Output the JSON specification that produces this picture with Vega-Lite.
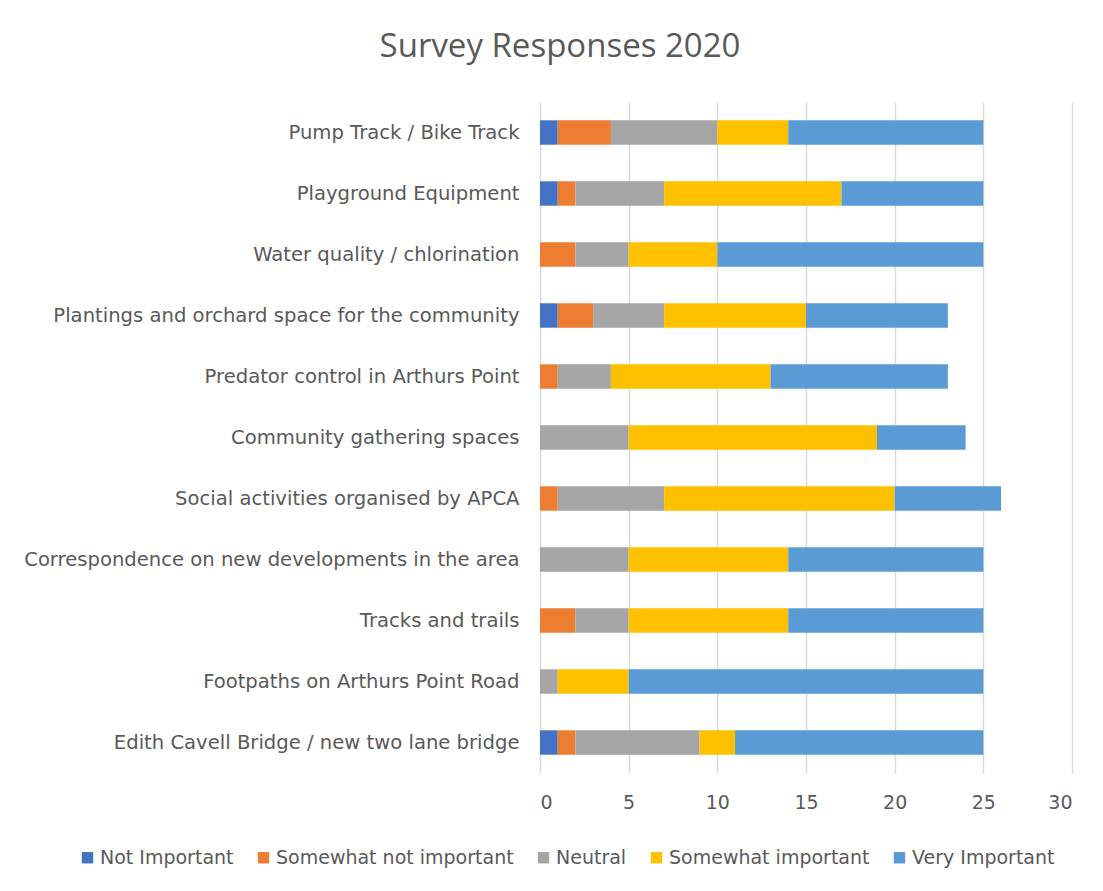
{
  "$schema": "https://vega.github.io/schema/vega-lite/v6.json",
  "width": 532,
  "height": 671,
  "autosize": {"type": "none"},
  "padding": {"left": 540, "top": 102, "right": 31, "bottom": 118},
  "background": "white",
  "title": {
    "text": "Survey Responses 2020",
    "font": "Open Sans",
    "fontSize": 33,
    "fontWeight": "normal",
    "color": "#595959",
    "anchor": "middle",
    "dx": -246,
    "offset": 38
  },
  "data": {
    "values": [
      {"item": "Pump Track / Bike Track", "response": "Not Important", "rank": 1, "count": 1},
      {"item": "Pump Track / Bike Track", "response": "Somewhat not important", "rank": 2, "count": 3},
      {"item": "Pump Track / Bike Track", "response": "Neutral", "rank": 3, "count": 6},
      {"item": "Pump Track / Bike Track", "response": "Somewhat important", "rank": 4, "count": 4},
      {"item": "Pump Track / Bike Track", "response": "Very Important", "rank": 5, "count": 11},

      {"item": "Playground Equipment", "response": "Not Important", "rank": 1, "count": 1},
      {"item": "Playground Equipment", "response": "Somewhat not important", "rank": 2, "count": 1},
      {"item": "Playground Equipment", "response": "Neutral", "rank": 3, "count": 5},
      {"item": "Playground Equipment", "response": "Somewhat important", "rank": 4, "count": 10},
      {"item": "Playground Equipment", "response": "Very Important", "rank": 5, "count": 8},

      {"item": "Water quality / chlorination", "response": "Not Important", "rank": 1, "count": 0},
      {"item": "Water quality / chlorination", "response": "Somewhat not important", "rank": 2, "count": 2},
      {"item": "Water quality / chlorination", "response": "Neutral", "rank": 3, "count": 3},
      {"item": "Water quality / chlorination", "response": "Somewhat important", "rank": 4, "count": 5},
      {"item": "Water quality / chlorination", "response": "Very Important", "rank": 5, "count": 15},

      {"item": "Plantings and orchard space for the community", "response": "Not Important", "rank": 1, "count": 1},
      {"item": "Plantings and orchard space for the community", "response": "Somewhat not important", "rank": 2, "count": 2},
      {"item": "Plantings and orchard space for the community", "response": "Neutral", "rank": 3, "count": 4},
      {"item": "Plantings and orchard space for the community", "response": "Somewhat important", "rank": 4, "count": 8},
      {"item": "Plantings and orchard space for the community", "response": "Very Important", "rank": 5, "count": 8},

      {"item": "Predator control in Arthurs Point", "response": "Not Important", "rank": 1, "count": 0},
      {"item": "Predator control in Arthurs Point", "response": "Somewhat not important", "rank": 2, "count": 1},
      {"item": "Predator control in Arthurs Point", "response": "Neutral", "rank": 3, "count": 3},
      {"item": "Predator control in Arthurs Point", "response": "Somewhat important", "rank": 4, "count": 9},
      {"item": "Predator control in Arthurs Point", "response": "Very Important", "rank": 5, "count": 10},

      {"item": "Community gathering spaces", "response": "Not Important", "rank": 1, "count": 0},
      {"item": "Community gathering spaces", "response": "Somewhat not important", "rank": 2, "count": 0},
      {"item": "Community gathering spaces", "response": "Neutral", "rank": 3, "count": 5},
      {"item": "Community gathering spaces", "response": "Somewhat important", "rank": 4, "count": 14},
      {"item": "Community gathering spaces", "response": "Very Important", "rank": 5, "count": 5},

      {"item": "Social activities organised by APCA", "response": "Not Important", "rank": 1, "count": 0},
      {"item": "Social activities organised by APCA", "response": "Somewhat not important", "rank": 2, "count": 1},
      {"item": "Social activities organised by APCA", "response": "Neutral", "rank": 3, "count": 6},
      {"item": "Social activities organised by APCA", "response": "Somewhat important", "rank": 4, "count": 13},
      {"item": "Social activities organised by APCA", "response": "Very Important", "rank": 5, "count": 6},

      {"item": "Correspondence on new developments in the area", "response": "Not Important", "rank": 1, "count": 0},
      {"item": "Correspondence on new developments in the area", "response": "Somewhat not important", "rank": 2, "count": 0},
      {"item": "Correspondence on new developments in the area", "response": "Neutral", "rank": 3, "count": 5},
      {"item": "Correspondence on new developments in the area", "response": "Somewhat important", "rank": 4, "count": 9},
      {"item": "Correspondence on new developments in the area", "response": "Very Important", "rank": 5, "count": 11},

      {"item": "Tracks and trails", "response": "Not Important", "rank": 1, "count": 0},
      {"item": "Tracks and trails", "response": "Somewhat not important", "rank": 2, "count": 2},
      {"item": "Tracks and trails", "response": "Neutral", "rank": 3, "count": 3},
      {"item": "Tracks and trails", "response": "Somewhat important", "rank": 4, "count": 9},
      {"item": "Tracks and trails", "response": "Very Important", "rank": 5, "count": 11},

      {"item": "Footpaths on Arthurs Point Road", "response": "Not Important", "rank": 1, "count": 0},
      {"item": "Footpaths on Arthurs Point Road", "response": "Somewhat not important", "rank": 2, "count": 0},
      {"item": "Footpaths on Arthurs Point Road", "response": "Neutral", "rank": 3, "count": 1},
      {"item": "Footpaths on Arthurs Point Road", "response": "Somewhat important", "rank": 4, "count": 4},
      {"item": "Footpaths on Arthurs Point Road", "response": "Very Important", "rank": 5, "count": 20},

      {"item": "Edith Cavell Bridge / new two lane bridge", "response": "Not Important", "rank": 1, "count": 1},
      {"item": "Edith Cavell Bridge / new two lane bridge", "response": "Somewhat not important", "rank": 2, "count": 1},
      {"item": "Edith Cavell Bridge / new two lane bridge", "response": "Neutral", "rank": 3, "count": 7},
      {"item": "Edith Cavell Bridge / new two lane bridge", "response": "Somewhat important", "rank": 4, "count": 2},
      {"item": "Edith Cavell Bridge / new two lane bridge", "response": "Very Important", "rank": 5, "count": 14}
    ]
  },
  "mark": {"type": "bar"},
  "encoding": {
    "y": {
      "field": "item",
      "type": "nominal",
      "sort": null,
      "title": null,
      "scale": {"paddingInner": 0.6, "paddingOuter": 0.3},
      "axis": {
        "domain": false,
        "ticks": false,
        "labelPadding": 21,
        "labelFont": "DejaVu Sans",
        "labelFontSize": 19.6,
        "labelColor": "#595959",
        "labelLimit": 600
      }
    },
    "x": {
      "field": "count",
      "type": "quantitative",
      "stack": "zero",
      "title": null,
      "scale": {"domain": [0, 30], "nice": false},
      "axis": {
        "values": [0, 5, 10, 15, 20, 25, 30],
        "domain": false,
        "ticks": false,
        "grid": true,
        "gridColor": "#d9d9d9",
        "gridWidth": 1.5,
        "labelPadding": 20,
        "labelFont": "DejaVu Sans",
        "labelFontSize": 19,
        "labelColor": "#595959"
      }
    },
    "color": {
      "field": "response",
      "type": "nominal",
      "scale": {
        "domain": ["Not Important", "Somewhat not important", "Neutral", "Somewhat important", "Very Important"],
        "range": ["#4472C4", "#ED7D31", "#A5A5A5", "#FFC000", "#5B9BD5"]
      },
      "legend": {
        "title": null,
        "orient": "none",
        "direction": "horizontal",
        "legendX": -462,
        "legendY": 746,
        "symbolType": "square",
        "symbolSize": 130,
        "symbolStrokeWidth": 0,
        "symbolOpacity": 1,
        "labelFont": "DejaVu Sans",
        "labelFontSize": 19,
        "labelColor": "#595959",
        "labelOffset": 3,
        "columnPadding": 20,
        "labelLimit": 400
      }
    },
    "order": {"field": "rank", "type": "quantitative"}
  },
  "config": {
    "view": {"stroke": null}
  }
}
